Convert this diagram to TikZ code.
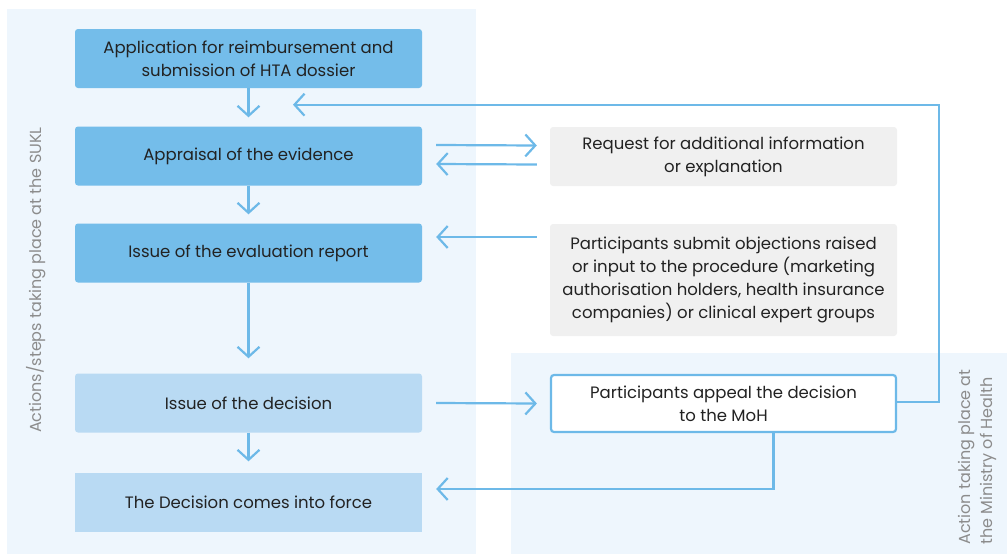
\documentclass[tikz,border=0pt]{standalone}
\usepackage{fontspec}
\setmainfont{Poppins}
\usetikzlibrary{arrows.meta, positioning, calc}
\definecolor{panelblue}{HTML}{EEF6FD}
\definecolor{stepblue}{HTML}{74BDEA}
\definecolor{paleblue}{HTML}{B9DAF3}
\definecolor{greybox}{HTML}{F0F0F0}
\definecolor{linkblue}{HTML}{6DB9E8}
\definecolor{labelgrey}{HTML}{8C8C8C}
\definecolor{textdark}{HTML}{222222}

\begin{document}
\begin{tikzpicture}[x=1pt, y=-1pt, >={Straight Barb[length=10pt,width=22pt]},
    every node/.style={font=\fontsize{16.5}{23}\selectfont, text=textdark, align=center},
    stepbox/.style={rounded corners=3pt, minimum width=347pt, minimum height=59pt, inner sep=0pt},
    flow/.style={->, draw=linkblue, line width=2.2pt},
    sidelabel/.style={rotate=90, text=labelgrey, font=\fontsize{16}{22}\selectfont}]

    \useasboundingbox (0,0) rectangle (1007,554);

    % panels
    \fill[panelblue] (7,9) rectangle (476,554);
    \fill[panelblue] (511,353) rectangle (1007,554);

    % steps at the SUKL
    \node[stepbox, fill=stepblue] (app) at (248.5,58.5)
      {Application for reimbursement and\\submission of HTA dossier};
    \node[stepbox, fill=stepblue] (appraisal) at (248.5,156) {Appraisal of the evidence};
    \node[stepbox, fill=stepblue] (evaluation) at (248.5,253) {Issue of the evaluation report};
    \node[stepbox, fill=paleblue] (decision) at (248.5,403) {Issue of the decision};
    \node[stepbox, fill=paleblue, rounded corners=0pt] (force) at (248.5,502)
      {The Decision comes into force};

    % participants
    \node[stepbox, fill=greybox] (request) at (723.5,156.5)
      {Request for additional information\\or explanation};
    \node[stepbox, fill=greybox, minimum height=112pt] (objections) at (723.5,280)
      {Participants submit objections raised\\or input to the procedure (marketing\\
       authorisation holders, health insurance\\companies) or clinical expert groups};
    \node[stepbox, fill=white, draw=linkblue, line width=2.2pt, minimum width=345pt,
          minimum height=57pt] (appeal) at (723.5,403.5)
      {Participants appeal the decision\\to the MoH};

    \node[sidelabel] (sukl) at (36,280) {Actions/steps taking place at the SUKL};
    \node[sidelabel, align=left] (moh) at (977,457)
      {Action taking place at\\the Ministry of Health};

    % flow
    \draw[flow, shorten >=9pt] (app.south) -- (appraisal.north);
    \draw[flow, shorten >=9pt] (appraisal.south) -- (evaluation.north);
    \draw[flow, shorten >=15pt] (evaluation.south) -- (decision.north);
    \draw[flow, shorten >=11pt] (decision.south) -- (force.north);

    \draw[flow] ([xshift=14pt,yshift=11pt]appraisal.east) -- ([xshift=-13pt,yshift=11pt]request.west);
    \draw[flow] ([xshift=-13pt,yshift=-8pt]request.west) -- ([xshift=14pt,yshift=-8pt]appraisal.east);
    \draw[flow] ($(objections.west |- evaluation.east)+(-13,-16)$) -- ($(evaluation.east)+(14,-16)$);
    \draw[flow] ([xshift=14pt]decision.east) -- ([xshift=-13pt]appeal.west);
    \draw[flow] ([xshift=50pt]appeal.south) |- ([xshift=14pt,yshift=13pt]force.east);
    \draw[flow] ([yshift=1.5pt]appeal.east) -- ++(42,0) |- ($(app.south)+(44.5,16.5)$);
  \end{tikzpicture}
\end{document}
